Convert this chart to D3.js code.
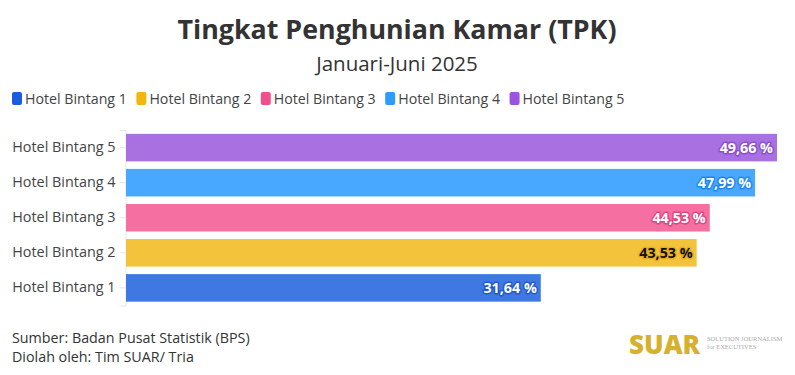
<!DOCTYPE html>
<html>
<head>
<meta charset="utf-8">
<script src="https://cdn.jsdelivr.net/npm/d3@7"></script>
<style>
  body { margin: 0; background: #fff; }
  svg { display: block; font-family: "Open Sans", "Noto Sans", sans-serif; }
</style>
</head>
<body>
<div id="chart"></div>
<script>

// data
let categories = ["Hotel Bintang 5", "Hotel Bintang 4", "Hotel Bintang 3", "Hotel Bintang 2", "Hotel Bintang 1"];
let values = [49.66, 47.99, 44.53, 43.53, 31.64];
let barColors = ["#A870E0", "#48A8FF", "#F56FA0", "#F3C33C", "#3E78E0"];
let labelFill = ["#fff", "#fff", "#fff", "#111", "#fff"];
let labelStroke = ["#8a4fd0", "#1f86ee", "#e2457f", "#e8b020", "#1f5ad0"];
let legendNames = ["Hotel Bintang 1", "Hotel Bintang 2", "Hotel Bintang 3", "Hotel Bintang 4", "Hotel Bintang 5"];
let legendColors = ["#1A5CE0", "#F0B80F", "#F0508C", "#2F9BFF", "#9B55E0"];

let svgWidth = 795, svgHeight = 375;
let margin = {top: 130, left: 126, right: 18, bottom: 70};

let svg = d3.select("#chart").append("svg")
    .attr("width", svgWidth)
    .attr("height", svgHeight);

// titles
svg.append("text")
    .attr("x", 397).attr("y", 39)
    .attr("text-anchor", "middle")
    .attr("font-size", "26.8px").attr("font-weight", "bold")
    .attr("fill", "#333")
    .text("Tingkat Penghunian Kamar (TPK)");

svg.append("text")
    .attr("x", 397).attr("y", 71)
    .attr("text-anchor", "middle")
    .attr("font-size", "20.5px")
    .attr("fill", "#333")
    .text("Januari-Juni 2025");

// legend
let lx = 12;
legendNames.forEach(function(name, i) {
    let g = svg.append("g").attr("transform", "translate(" + lx + ",92)");
    g.append("rect")
        .attr("width", 10).attr("height", 13).attr("rx", 2)
        .attr("fill", legendColors[i]);
    let t = g.append("text")
        .attr("x", 13).attr("y", 11.5)
        .attr("font-size", "14.2px").attr("fill", "#444")
        .text(name);
    lx += 13 + t.node().getComputedTextLength() + 9.5;
});

// scales
let x = d3.scaleLinear()
    .domain([0, d3.max(values)])
    .range([margin.left, svgWidth - margin.right]);

let y = d3.scaleBand()
    .domain(categories)
    .range([margin.top, svgHeight - margin.bottom + 0.5])
    .paddingInner(0.215)
    .paddingOuter(0.11);

// y axis
let yAxis = svg.append("g")
    .attr("transform", "translate(" + (margin.left - 0.5) + ",0)")
    .call(d3.axisLeft(y).tickSize(6).tickPadding(4));
yAxis.select(".domain").attr("stroke", "#e6e6e6");
yAxis.selectAll(".tick line").attr("stroke", "#e6e6e6");
yAxis.selectAll(".tick text")
    .attr("font-size", "14.4px")
    .attr("font-family", "\"Open Sans\", \"Noto Sans\", sans-serif")
    .attr("fill", "#444");

// bars
let bars = svg.selectAll(".bar")
    .data(categories)
    .enter()
    .append("g");

bars.append("rect")
    .attr("class", "bar")
    .attr("x", x(0))
    .attr("y", function(d) { return y(d); })
    .attr("width", function(d, i) { return x(values[i]) - x(0); })
    .attr("height", y.bandwidth())
    .attr("fill", function(d, i) { return barColors[i]; });

bars.append("text")
    .text(function(d, i) { return values[i].toFixed(2).replace(".", ",") + " %"; })
    .attr("x", function(d, i) { return x(values[i]) - 4; })
    .attr("y", function(d) { return y(d) + y.bandwidth() / 2 + 5; })
    .attr("text-anchor", "end")
    .attr("font-size", "14.3px")
    .attr("font-weight", "bold")
    .attr("fill", function(d, i) { return labelFill[i]; })
    .attr("stroke", function(d, i) { return labelStroke[i]; })
    .attr("stroke-width", 3)
    .attr("stroke-linejoin", "round")
    .attr("paint-order", "stroke");

// footer
svg.append("text")
    .attr("x", 12).attr("y", 343)
    .attr("font-size", "14.3px").attr("fill", "#333")
    .text("Sumber: Badan Pusat Statistik (BPS)");
svg.append("text")
    .attr("x", 12).attr("y", 362)
    .attr("font-size", "14.3px").attr("fill", "#333")
    .text("Diolah oleh: Tim SUAR/ Tria");

// logo
svg.append("text")
    .attr("x", 629).attr("y", 354)
    .attr("font-size", "26px").attr("font-weight", "900")
    .attr("font-family", "\"Open Sans\", sans-serif")
    .attr("fill", "#D6B12E")
    .text("SUAR");
svg.append("text")
    .attr("x", 707).attr("y", 341)
    .attr("font-size", "6.5px")
    .attr("font-family", "\"Liberation Serif\", serif")
    .attr("fill", "#aaa")
    .text("SOLUTION JOURNALISM");
svg.append("text")
    .attr("x", 707).attr("y", 349)
    .attr("font-size", "6.5px")
    .attr("font-family", "\"Liberation Serif\", serif")
    .attr("fill", "#aaa")
    .text("for EXECUTIVES");

</script>
</body>
</html>
